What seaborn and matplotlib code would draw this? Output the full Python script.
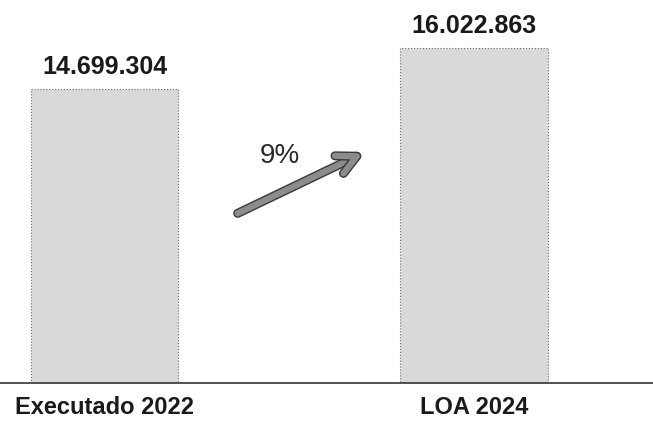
import matplotlib
matplotlib.use("Agg")
import pandas as pd
import seaborn as sns
import matplotlib.pyplot as plt
import matplotlib.patheffects as pe

# dados do grafico
categorias = ["Executado 2022", "LOA 2024"]
valores = [14699304, 16022863]
rotulos = ["14.699.304", "16.022.863"]
variacao = "9%"

df = pd.DataFrame({"cat": categorias, "valor": valores})

sns.set_theme(style="white")
plt.rcParams['font.family'] = ['Liberation Sans', 'DejaVu Sans']

fig = plt.figure(figsize=(6.53, 4.21), dpi=100)
ax = fig.add_axes([0, 38 / 421, 1, 383 / 421])

sns.barplot(data=df, x="cat", y="valor", color="#d9d9d9", width=0.4,
            saturation=1, edgecolor="#6a6a6a", linewidth=0.8, linestyle=":", ax=ax)

# rotulos em cima das barras
ax.bar_label(ax.containers[0], labels=rotulos, padding=7,
             fontsize=18, fontweight="bold", color="#1a1a1a")

# escala: eixo nao comeca em zero (igual ao original)
ax.set_ylim(5.208e6, 17.572e6)
ax.set_xlim(-0.283, 1.484)

ax.set_yticks([])
ax.set_ylabel("")
ax.set_xlabel("")
ax.tick_params(axis="x", length=0, pad=9, labelsize=17)
for t in ax.get_xticklabels():
    t.set_fontweight("bold")
    t.set_color("#1a1a1a")

for s in ["top", "left", "right"]:
    ax.spines[s].set_visible(False)
ax.spines["bottom"].set_color("#333333")
ax.spines["bottom"].set_linewidth(1.2)

# seta de crescimento
ax.annotate("", xy=(0.556, 0.600), xytext=(0.364, 0.443),
            xycoords="axes fraction", textcoords="axes fraction",
            arrowprops=dict(arrowstyle="->", color="#8c8c8c", lw=4.5,
                            mutation_scale=35, shrinkA=0, shrinkB=0,
                            path_effects=[pe.Stroke(linewidth=6.5, foreground="#3a3a3a"),
                                          pe.Normal()]))
ax.text(0.429, 0.593, variacao, transform=ax.transAxes, ha="center", va="center",
        fontsize=20, color="#2a2a2a")

fig.savefig("out.png", dpi=100)
